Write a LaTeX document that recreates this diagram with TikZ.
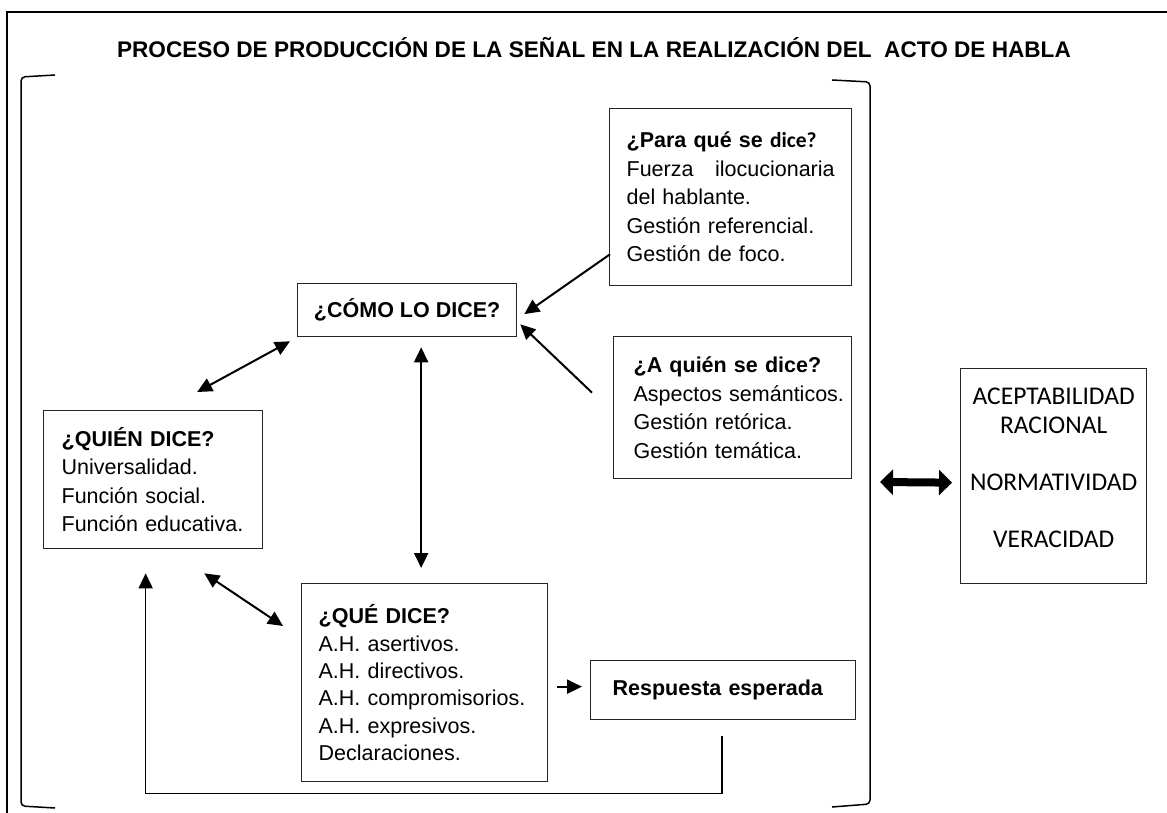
\documentclass[tikz,border=0pt]{standalone}
\usepackage{fontspec}
\setmainfont{Liberation Sans}
\newfontfamily\calibri{Carlito}
\usetikzlibrary{arrows.meta,calc}
\begin{document}
\begin{tikzpicture}[x=1pt,y=-1pt,
  box/.style={draw=black!85,line width=1.3pt,anchor=north west,inner ysep=0pt,align=left,
    font=\fontsize{21.5}{28.5}\selectfont},
  arr/.style={line width=2pt,-{Triangle[length=15pt,width=14pt]}},
  dblarr/.style={line width=2pt,{Triangle[length=15pt,width=14pt]}-{Triangle[length=15pt,width=14pt]}},
  bigarr/.style={line width=8pt,{Triangle[length=13pt,width=25pt]}-{Triangle[length=13pt,width=25pt]}}]
\useasboundingbox (0,0) rectangle (1167,813);
\draw[line width=2.5pt] (7,813) -- (7,12) -- (1167,12); % frame
\node (title) at (594,48) {\fontsize{22.6}{26}\selectfont\bfseries PROCESO DE PRODUCCIÓN DE LA SEÑAL EN LA REALIZACIÓN DEL~ ACTO DE HABLA};
% brackets
\draw[line width=1.5pt,rounded corners=4pt] (55,75) -- (21,77) -- (21,806) -- (55,808);
\draw[line width=1.5pt,rounded corners=4pt] (832,80) -- (870,82) -- (870,804) -- (832,807);
\coordinate (rbr) at (870,482);
% boxes
\node[box,inner xsep=17pt,text width=208pt,minimum height=177pt] (para) at (609,108)
  {\textbf{¿Para qué se {\calibri dice?}}\\ \makebox[208pt][l]{Fuerza\hfill ilocucionaria}\\ del hablante.\\ Gestión referencial.\\ Gestión de foco.};
\node[box,align=center,minimum width=219pt,minimum height=53pt] (como) at (297,283) {\textbf{¿CÓMO LO DICE?}};
\node[box,inner xsep=20pt,text width=198pt,minimum height=142pt] (aquien) at (613,336)
  {\textbf{¿A quién se dice?}\\ \mbox{Aspectos semánticos.}\\ Gestión retórica.\\ Gestión temática.};
\node[box,inner xsep=18pt,text width=183pt,minimum height=138pt] (quien) at (43,410)
  {\textbf{¿QUIÉN DICE?}\\ Universalidad.\\ Función social.\\ Función educativa.};
\node[box,inner xsep=17pt,text width=212pt,minimum height=198pt,font=\fontsize{21.5}{27.3}\selectfont] (que) at (301,583)
  {\textbf{¿QUÉ DICE?}\\ A.H. asertivos.\\ A.H. directivos.\\ A.H. compromisorios.\\ A.H. expresivos.\\ Declaraciones.};
\node[box,inner xsep=22pt,text width=221pt,minimum height=59pt] (resp) at (590,660) {\textbf{Respuesta esperada}};
\node[box,align=center,minimum width=186pt,minimum height=215pt,font=\calibri\fontsize{25.5}{28.5}\selectfont] (acept) at (960,368)
  {ACEPTABILIDAD\\ RACIONAL\\[28.5pt] NORMATIVIDAD\\[28.5pt] VERACIDAD\\[-12pt] \mbox{}};
% arrows
\draw[arr] ($(para.south west)+(1,-32)$) -- ($(como.east)+(7,4)$);
\draw[arr] ($(aquien.west)+(-21,-15)$) -- ($(como.south east)+(3,-13)$);
\draw[dblarr] ($(quien.north)+(44,-18)$) -- ($(como.south west)+(-7,4)$);
\draw[dblarr] ($(como.south)+(14,10)$) -- ($(como.south |- que.north)+(14,-15)$);
\draw[dblarr] ($(quien.south east)+(-59,24)$) -- ($(que.north west)+(-18,43)$);
\draw[arr] ($(que.east)+(9,4)$) -- ($(resp.west)+(-8,-3.5)$);
\draw[arr,line width=1.6pt] ($(resp.south west)+(132,16)$) |- ($(quien.south)+(-7.5,244)$) -- ($(quien.south)+(-7.5,24)$);
\draw[bigarr] ($(rbr)+(10,0)$) -- ($(acept.west)+(-8,6.5)$);
\end{tikzpicture}
\end{document}
